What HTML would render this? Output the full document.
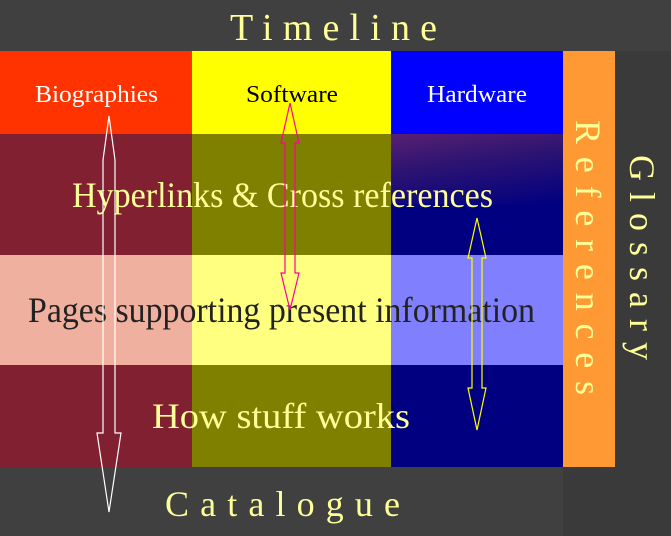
<!DOCTYPE html>
<html><head><meta charset="utf-8"><style>
html,body{margin:0;padding:0;width:671px;height:536px;overflow:hidden;background:#3a3a3a}
.a{position:absolute}
svg text{font-family:"Liberation Serif","DejaVu Serif",serif}
</style></head><body>
<div class="a" style="left:0;top:0;width:671px;height:51px;background:#404040"></div>
<div class="a" style="left:0;top:51px;width:192px;height:83px;background:#ff3300"></div>
<div class="a" style="left:192px;top:51px;width:199px;height:83px;background:#ffff00"></div>
<div class="a" style="left:391px;top:51px;width:172px;height:83px;background:#0000ff"></div>
<div class="a" style="left:0;top:134px;width:192px;height:121px;background:#802030"></div>
<div class="a" style="left:192px;top:134px;width:199px;height:121px;background:#808000"></div>
<div class="a" style="left:391px;top:134px;width:172px;height:121px;background:#000080"></div>
<div class="a" style="left:391px;top:134px;width:172px;height:70px;background:linear-gradient(172deg,rgba(110,40,110,.8) 0%,rgba(90,40,100,.5) 40%,rgba(0,0,128,0) 100%)"></div>
<div class="a" style="left:0;top:255px;width:192px;height:110px;background:#f0b0a0"></div>
<div class="a" style="left:192px;top:255px;width:199px;height:110px;background:#ffff80"></div>
<div class="a" style="left:391px;top:255px;width:172px;height:110px;background:#8080ff"></div>
<div class="a" style="left:0;top:365px;width:192px;height:102px;background:#802030"></div>
<div class="a" style="left:192px;top:365px;width:199px;height:102px;background:#808000"></div>
<div class="a" style="left:391px;top:365px;width:172px;height:102px;background:#000080"></div>
<div class="a" style="left:0;top:467px;width:563px;height:69px;background:#404040"></div>
<div class="a" style="left:563px;top:51px;width:52px;height:416px;background:#ff9933"></div>
<svg class="a" style="left:0;top:0" width="671" height="536">
<text x="230" y="40" font-size="38" fill="#ffff99" textLength="207" lengthAdjust="spacing">Timeline</text>
<text x="35" y="102" font-size="24" fill="#fff" textLength="123" lengthAdjust="spacingAndGlyphs">Biographies</text>
<text x="246" y="102" font-size="24" fill="#000" textLength="92" lengthAdjust="spacingAndGlyphs">Software</text>
<text x="427" y="102" font-size="24" fill="#fff" textLength="100" lengthAdjust="spacingAndGlyphs">Hardware</text>
<text x="72" y="207" font-size="36" fill="#ffff99" textLength="421" lengthAdjust="spacingAndGlyphs">Hyperlinks &amp; Cross references</text>
<text x="28" y="322" font-size="36" fill="#222" textLength="507" lengthAdjust="spacingAndGlyphs">Pages supporting present information</text>
<text x="152" y="428" font-size="36" fill="#ffff99" textLength="258" lengthAdjust="spacingAndGlyphs">How stuff works</text>
<text x="165" y="516" font-size="36" fill="#ffff99" textLength="235" lengthAdjust="spacing">Catalogue</text>
<text transform="translate(576,120) rotate(90)" font-size="36" fill="#ffff99" textLength="275" lengthAdjust="spacing">References</text>
<text transform="translate(630,155) rotate(90)" font-size="36" fill="#ffff99" textLength="205" lengthAdjust="spacing">Glossary</text>
<polygon points="109,116 115,160 115,433 121,433 109,512 97,433 103,433 103,160" fill="none" stroke="#fff" stroke-width="1.2"/>
<polygon points="290,103 299,143 295,143 295,273 299,273 290,310 281,273 285,273 285,143 281,143" fill="none" stroke="#ff0099" stroke-width="1.2"/>
<polygon points="477,218 486,258 482,258 482,388 486,388 477,430 468,388 472,388 472,258 468,258" fill="none" stroke="#ffff00" stroke-width="1.2"/>
</svg>
</body></html>
